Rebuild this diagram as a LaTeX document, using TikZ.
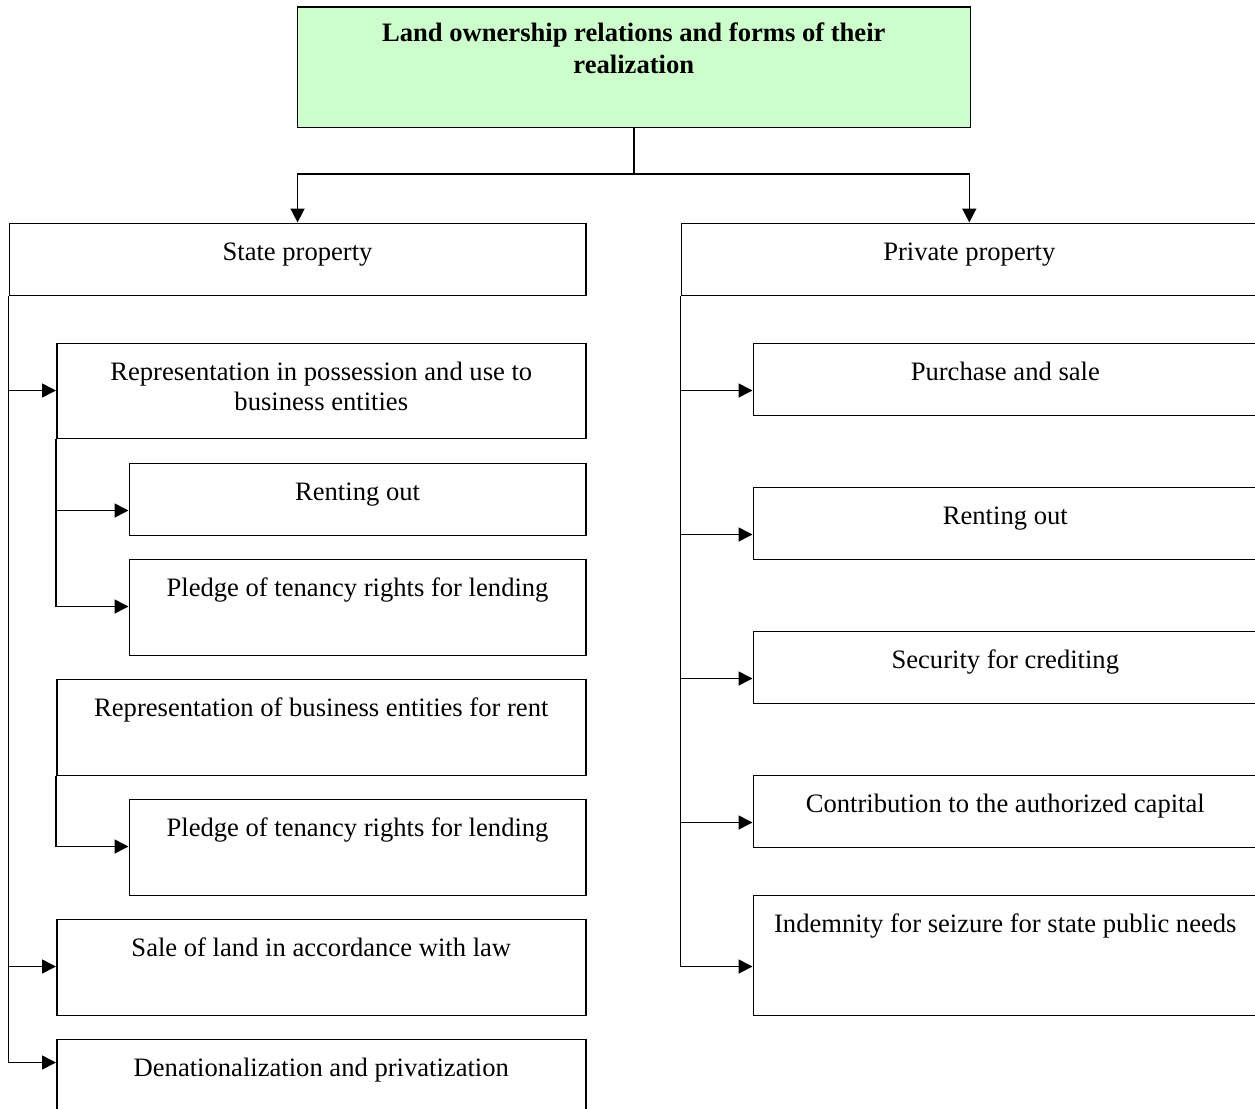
\documentclass[tikz,border=0pt]{standalone}
\usepackage{fontspec}
\setmainfont{Liberation Serif}
\usetikzlibrary{arrows.meta}
\definecolor{titlegreen}{HTML}{CCFFCC}
\newcommand\topst{\rule{0pt}{21pt}}
\tikzset{
  bx/.style={draw, line width=1.6pt, rectangle, inner sep=0pt, anchor=north west},
  tx/.style={anchor=north, inner sep=0pt, align=center, font=\fontsize{26.6}{30.5}\selectfont},
  ttl/.style={anchor=north, inner sep=0pt, align=center, font=\fontsize{26.6}{32}\selectfont\bfseries},
  arr/.style={line width=1.6pt, -{Triangle[length=14pt,width=14pt]}},
  ln/.style={line width=1.6pt}
}
% name, x, y, w, h, text
\newcommand\mybox[6]{%
  \node[bx, minimum width=#4pt, minimum height=#5pt] (#1) at (#2,#3) {};
  \node[tx] (#1t) at ([yshift=-16.5pt]#1.north) {\topst #6};
}
\begin{document}
\begin{tikzpicture}[x=1pt,y=-1pt]
\useasboundingbox (0,0) rectangle (1255,1108);
\clip (0,0) rectangle (1255,1108);
% title
\node[bx, fill=titlegreen, minimum width=673pt, minimum height=120pt] (title) at (296.5,6.5) {};
\node[ttl] (titlet) at ([yshift=-14pt]title.north) {\topst Land ownership relations and forms of their\\realization};
% level 1
\mybox{state}{8.5}{222.5}{576.5}{72}{State property}
\mybox{priv}{680.5}{222.5}{576}{72}{Private property}
\coordinate (split) at (title.south |- 0,174);
\draw[ln] (title.south) -- (split);
\draw[arr] (split) -| (state.north);
\draw[arr] (split) -| (priv.north);
% left column
\mybox{rep1}{56}{342.5}{529}{95}{Representation in possession and use to\\business entities}
\mybox{rent1}{128.5}{462.5}{456.5}{72}{Renting out}
\mybox{pl1}{128.5}{558.5}{456.5}{96}{Pledge of tenancy rights for lending}
\mybox{rep2}{56}{678.5}{529}{96}{Representation of business entities for rent}
\mybox{pl2}{128.5}{798.5}{456.5}{96}{Pledge of tenancy rights for lending}
\mybox{sale}{56}{918.5}{529}{96}{Sale of land in accordance with law}
\mybox{denat}{56}{1038.5}{529}{96}{Denationalization and privatization}
% right column
\mybox{buy}{752.5}{342.5}{504}{72}{Purchase and sale}
\mybox{rent2}{752.5}{486.5}{504}{72}{Renting out}
\mybox{sec}{752.5}{630.5}{504}{72}{Security for crediting}
\mybox{contr}{752.5}{774.5}{504}{72}{Contribution to the authorized capital}
\mybox{ind}{752.5}{894.5}{504}{120}{Indemnity for seizure for state public needs}
% left trunk
\draw[arr] (state.south west) |- ([yshift=-48pt]rep1.north west);
\draw[arr] (state.south west) |- ([yshift=-48pt]sale.north west);
\draw[arr] (state.south west) |- ([yshift=-24pt]denat.north west);
% sub trunks
\draw[arr] (rep1.south west) |- ([yshift=-48pt]rent1.north west);
\draw[arr] (rep1.south west) |- ([yshift=-48pt]pl1.north west);
\draw[arr] (rep2.south west) |- ([yshift=-48pt]pl2.north west);
% right trunk
\draw[arr] (priv.south west) |- ([yshift=-48pt]buy.north west);
\draw[arr] (priv.south west) |- ([yshift=-48pt]rent2.north west);
\draw[arr] (priv.south west) |- ([yshift=-48pt]sec.north west);
\draw[arr] (priv.south west) |- ([yshift=-48pt]contr.north west);
\draw[arr] (priv.south west) |- ([yshift=-72pt]ind.north west);
\end{tikzpicture}
\end{document}
